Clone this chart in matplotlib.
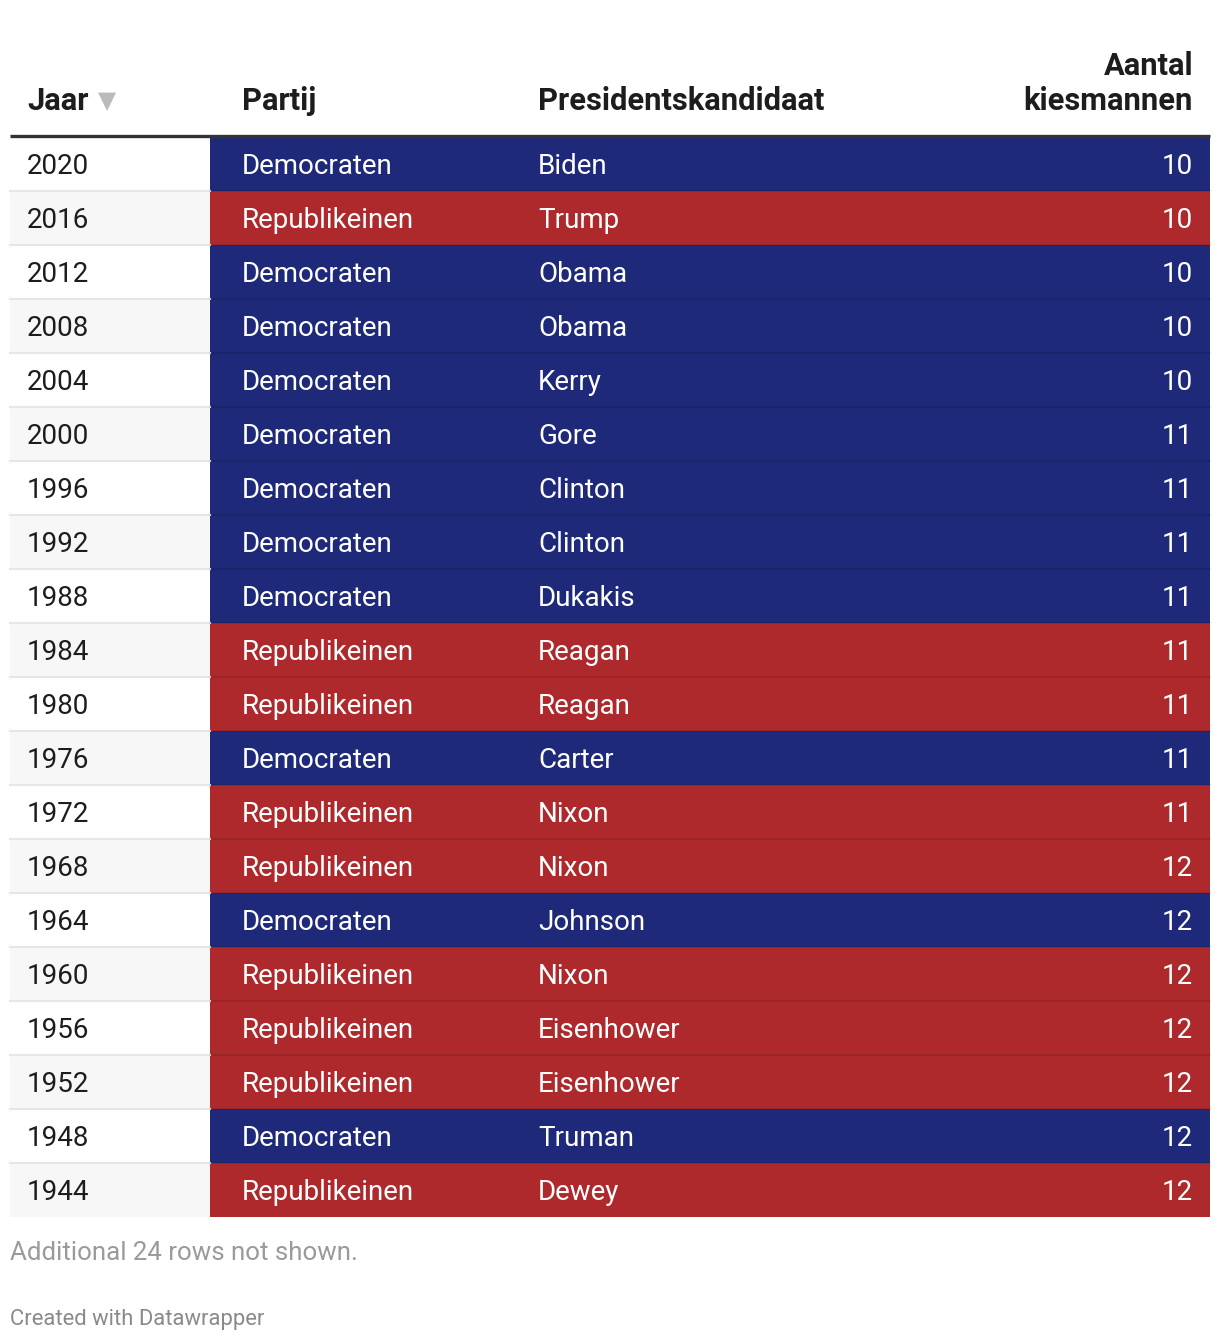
import matplotlib.pyplot as plt
from matplotlib import use
from matplotlib.patches import Rectangle
use('Agg')

plt.rcParams['font.family'] = ['Roboto', 'DejaVu Sans']

years = [2020, 2016, 2012, 2008, 2004, 2000, 1996, 1992, 1988, 1984,
         1980, 1976, 1972, 1968, 1964, 1960, 1956, 1952, 1948, 1944]
parties = ["Democraten", "Republikeinen", "Democraten", "Democraten", "Democraten",
           "Democraten", "Democraten", "Democraten", "Democraten", "Republikeinen",
           "Republikeinen", "Democraten", "Republikeinen", "Republikeinen", "Democraten",
           "Republikeinen", "Republikeinen", "Republikeinen", "Democraten", "Republikeinen"]
candidates = ["Biden", "Trump", "Obama", "Obama", "Kerry", "Gore", "Clinton", "Clinton",
              "Dukakis", "Reagan", "Reagan", "Carter", "Nixon", "Nixon", "Johnson",
              "Nixon", "Eisenhower", "Eisenhower", "Truman", "Dewey"]
electors = [10, 10, 10, 10, 10, 11, 11, 11, 11, 11, 11, 11, 11, 12, 12, 12, 12, 12, 12, 12]
headers = ["Jaar", "Partij", "Presidentskandidaat", "Aantal\nkiesmannen"]

party_colors = {"Democraten": "#1e2a79", "Republikeinen": "#ad292b"}

W, H = 1220, 1342
fig = plt.figure(figsize=(W / 100, H / 100), dpi=100)
ax = fig.add_axes([0, 0, 1, 1])
ax.set_xlim(0, W)
ax.set_ylim(H, 0)
ax.axis('off')

left, right = 10, 1210
col_split = 210
top = 137
row_h = 54
fs = 20
hfs = 22.2
hcol = '#1d1d1d'

# header
ax.text(27, 110, headers[0], fontsize=hfs, fontweight='bold', color=hcol, va='baseline')
ax.text(98, 108, "\u25bc", fontsize=17, color='#bbbbbb', va='baseline', family='DejaVu Sans')
ax.text(242, 110, headers[1], fontsize=hfs, fontweight='bold', color=hcol, va='baseline')
ax.text(538, 110, headers[2], fontsize=hfs, fontweight='bold', color=hcol, va='baseline')
for k, line in enumerate(headers[3].split("\n")[::-1]):
    ax.text(1193, 110 - k * 35, line, fontsize=hfs, fontweight='bold', color=hcol,
            va='baseline', ha='right')

for i, (yr, p, c, e) in enumerate(zip(years, parties, candidates, electors)):
    y0 = top + i * row_h
    bg = '#ffffff' if i % 2 == 0 else '#f7f7f7'
    ax.add_patch(Rectangle((left, y0), col_split - left, row_h, facecolor=bg, edgecolor='none'))
    ax.add_patch(Rectangle((col_split, y0), right - col_split, row_h,
                           facecolor=party_colors[p], edgecolor='none'))
    if i > 0:
        ax.plot([left, col_split], [y0, y0], color='#e6e6e6', lw=1.5)
        ax.plot([col_split, right], [y0, y0], color='black', alpha=0.12, lw=1.2)
    base = y0 + 37
    ax.text(27, base, str(yr), fontsize=fs, color=hcol, va='baseline')
    ax.text(242, base, p, fontsize=fs, color='white', va='baseline')
    ax.text(538, base, c, fontsize=fs, color='white', va='baseline')
    ax.text(1193, base, str(e), fontsize=fs, color='white', va='baseline', ha='right')

# header rule
ax.plot([left, right], [135.5, 135.5], color='#333333', lw=2.4, solid_capstyle='butt')

ax.text(10, 1260, "Additional 24 rows not shown.", fontsize=18.6, color='#9a9a9a', va='baseline')
ax.text(10, 1325, "Created with Datawrapper", fontsize=15.8, color='#8a8a8a', va='baseline')

fig.savefig('out.png', dpi=100)
